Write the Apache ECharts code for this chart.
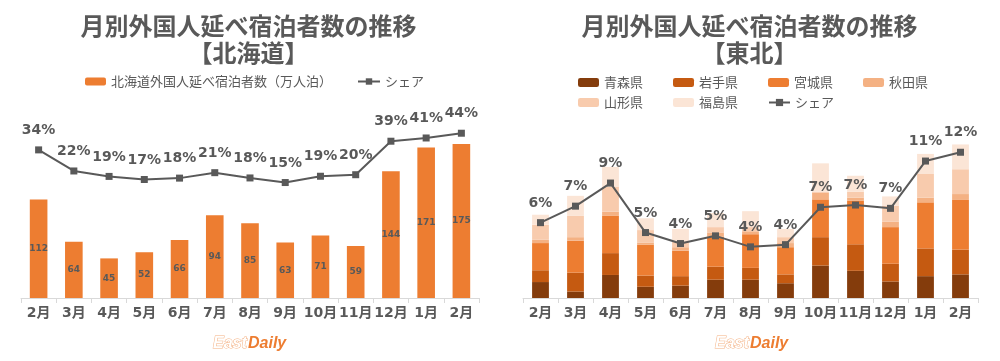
<!DOCTYPE html>
<html>
<head>
<meta charset="utf-8">
<script src="https://cdn.jsdelivr.net/npm/echarts@6/dist/echarts.min.js"></script>
<style>
html,body{margin:0;padding:0;background:#fff;}
#c{width:1000px;height:361px;}
</style>
</head>
<body>
<div id="c"></div>
<script>
// ---- data ----
const categories = ['2月','3月','4月','5月','6月','7月','8月','9月','10月','11月','12月','1月','2月'];
// 北海道 (万人泊) and share (%)
const hokkaidoNights = [112,64,45,52,66,94,85,63,71,59,144,171,175];
const hokkaidoShare  = [34.2,21.8,18.6,16.8,17.6,20.8,17.7,15.0,18.7,19.6,39.3,41.2,44.0];
// 東北 by prefecture (万人泊, estimated) and share (%)
const aomori    = [2.7,1.1,3.9,1.9,2.1,3.1,3.1,2.5,5.5,4.6,2.8,3.7,4.0];
const iwate     = [2.0,3.2,3.7,1.9,1.6,2.2,2.0,1.5,4.8,4.5,3.0,4.7,4.2];
const miyagi    = [4.6,5.4,6.3,5.2,4.3,5.1,5.7,4.6,6.4,7.4,6.2,7.8,8.4];
const akita     = [0.6,0.6,0.7,0.4,0.6,0.7,0.5,0.7,1.1,0.5,0.9,0.8,1.0];
const yamagata  = [2.5,3.6,4.2,2.1,1.0,0.9,0.7,1.0,0.2,1.0,2.7,4.0,4.2];
const fukushima = [1.7,3.4,3.4,2.0,2.1,2.4,2.7,1.4,4.8,2.7,1.6,3.4,4.2];
const tohokuShare = [5.8,7.3,9.4,4.9,3.9,4.6,3.6,3.8,7.2,7.4,7.1,11.4,12.2];

const prefNames = ['青森県','岩手県','宮城県','秋田県','山形県','福島県'];
const prefData = [aomori, iwate, miyagi, akita, yamagata, fukushima];
const prefColors = ['#843c0c','#c55a11','#ed7d31','#f4b183','#f8cbad','#fbe5d6'];

const GRAY = '#595959';
const CJK = "'Noto Sans CJK JP'";
const NUMF = "'DejaVu Sans', 'Noto Sans CJK JP'";

const chart = echarts.init(document.getElementById('c'), null, {renderer:'canvas'});

function xAxis(gi){
  return {
    type:'category', gridIndex:gi, data:categories, boundaryGap:true,
    axisLine:{show:true, lineStyle:{color:'#d9d9d9', width:1}},
    axisTick:{show:true, length:5, lineStyle:{color:'#d9d9d9'}},
    axisLabel:{interval:0, color:GRAY, fontWeight:'bold', fontSize:14, fontFamily:NUMF, margin:8},
    splitLine:{show:false}
  };
}
function yAxis(gi, min, max){
  return {type:'value', gridIndex:gi, min:min, max:max, show:false, splitLine:{show:false}};
}
const legendText = {color:GRAY, fontSize:13, fontFamily:CJK};
const shareLabel = {
  show:true, position:'top', distance:9,
  formatter: p => Math.round(p.value) + '%',
  color:GRAY, fontSize:14, fontWeight:'bold', fontFamily:NUMF
};

function titleText(x, txt){
  return {
    type:'text', x:x, y:12,
    style:{text:txt, align:'center', textAlign:'center', verticalAlign:'top', textVerticalAlign:'top',
      font:"bold 24px 'Noto Sans CJK JP'", fill:GRAY, lineHeight:27}
  };
}
function logo(x){
  return [
    {type:'text', x:x, y:343.5, style:{text:'East', align:'left', textAlign:'left', verticalAlign:'middle', textVerticalAlign:'middle',
      font:"italic bold 16px 'Liberation Sans'", fill:'#ffffff', stroke:'#f4b183', lineWidth:1}},
    {type:'text', x:x+35, y:343.5, style:{text:'Daily', align:'left', textAlign:'left', verticalAlign:'middle', textVerticalAlign:'middle',
      font:"italic bold 16px 'Liberation Sans'", fill:'#ed7d31'}}
  ];
}

const series = [
  {
    type:'bar', name:'北海道外国人延べ宿泊者数（万人泊）', xAxisIndex:0, yAxisIndex:0,
    data:hokkaidoNights, barWidth:'50%', itemStyle:{color:'#ed7d31'},
    label:{show:true, position:'inside', color:GRAY, fontSize:9, fontWeight:'bold', fontFamily:NUMF}
  },
  {
    type:'line', name:'シェア', xAxisIndex:0, yAxisIndex:1, data:hokkaidoShare,
    symbol:'rect', symbolSize:7, lineStyle:{color:GRAY, width:2}, itemStyle:{color:GRAY},
    label:shareLabel, z:5
  }
];
prefNames.forEach((n,i)=>{
  series.push({
    type:'bar', name:n, stack:'tohoku', xAxisIndex:1, yAxisIndex:2,
    data:prefData[i], barWidth:'48%', itemStyle:{color:prefColors[i]}
  });
});
series.push({
  type:'line', name:'シェア', xAxisIndex:1, yAxisIndex:3, data:tohokuShare,
  symbol:'rect', symbolSize:7, lineStyle:{color:GRAY, width:2}, itemStyle:{color:GRAY},
  label:shareLabel, z:5
});

chart.setOption({
  animation:false,
  backgroundColor:'#ffffff',
  legend:[
    {data:['北海道外国人延べ宿泊者数（万人泊）'], left:85, top:75, padding:0, itemWidth:21, itemHeight:8, textStyle:legendText, selectedMode:false},
    {data:['シェア'], left:357, top:75, padding:0, itemWidth:22, itemHeight:8, textStyle:legendText, selectedMode:false},
    {data:['青森県','岩手県','宮城県','秋田県'], left:578, top:76, padding:0, itemGap:30, itemWidth:21, itemHeight:9, textStyle:legendText, selectedMode:false},
    {data:['山形県','福島県','シェア'], left:578, top:96, padding:0, itemGap:30, itemWidth:21, itemHeight:9, textStyle:legendText, selectedMode:false}
  ],
  grid:[
    {left:21, top:122, width:458, height:176},
    {left:523, top:122, width:455, height:176}
  ],
  xAxis:[xAxis(0), xAxis(1)],
  yAxis:[yAxis(0,0,200), yAxis(0,-52.9,50.6), yAxis(1,0,29.8), yAxis(1,-1.05,14.95)],
  series:series,
  graphic:[
    titleText(248.5, '月別外国人延べ宿泊者数の推移\n【北海道】'),
    titleText(749.5, '月別外国人延べ宿泊者数の推移\n【東北】'),
    ...logo(213), ...logo(715)
  ]
});
</script>
</body>
</html>
